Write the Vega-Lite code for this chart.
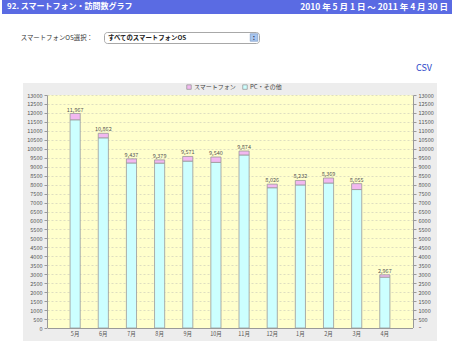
{
  "$schema": "https://vega.github.io/schema/vega-lite/v6.json",
  "padding": {"left": 2, "top": 0, "right": 0, "bottom": 0},
  "background": "white",
  "bounds": "flush",
  "spacing": 0,
  "resolve": {"legend": {"color": "independent"}},
  "config": {
    "view": {"stroke": null},
    "font": "Noto Sans CJK JP"
  },
  "vconcat": [
    {
      "width": 450,
      "height": 14,
      "view": {"fill": "#5a6be3", "stroke": null},
      "layer": [
        {
          "data": {"values": [{"part": "left", "label": "92. スマートフォン・訪問数グラフ"}]},
          "mark": {"type": "text", "align": "left", "baseline": "middle", "dx": 5, "color": "white", "fontSize": 8, "fontWeight": "bold"},
          "encoding": {
            "x": {"field": "part", "type": "nominal", "scale": {"type": "point", "domain": ["left", "right"], "padding": 0}, "axis": null},
            "text": {"field": "label"}
          }
        },
        {
          "data": {"values": [{"part": "right", "label": "2010 年 5 月 1 日 ～ 2011 年 4 月 30 日"}]},
          "mark": {"type": "text", "align": "right", "baseline": "middle", "dx": -4, "color": "white", "fontSize": 8.5, "fontWeight": "bold"},
          "encoding": {
            "x": {"field": "part", "type": "nominal", "scale": {"type": "point", "domain": ["left", "right"], "padding": 0}, "axis": null},
            "text": {"field": "label"}
          }
        }
      ]
    },
    {"width": 10, "height": 18, "data": {"values": []}, "mark": "rect", "encoding": {}},
    {
      "hconcat": [
        {
          "width": 102,
          "height": 11,
          "data": {"values": [{"part": "end", "label": "スマートフォンOS選択："}]},
          "mark": {"type": "text", "align": "right", "baseline": "middle", "dx": -11, "fontSize": 6.4, "color": "#333333"},
          "encoding": {
            "x": {"field": "part", "type": "nominal", "scale": {"type": "point", "domain": ["start", "end"], "padding": 0}, "axis": null},
            "text": {"field": "label"}
          }
        },
        {
          "width": 155,
          "height": 11,
          "view": {"fill": "white", "stroke": "#a8a8a8", "cornerRadius": 3},
          "layer": [
            {
              "data": {"values": [{"part": "text", "label": "すべてのスマートフォンOS"}]},
              "mark": {"type": "text", "align": "left", "baseline": "middle", "dx": 4, "fontSize": 6.4, "fontWeight": "bold", "color": "#222222"},
              "encoding": {
                "x": {"field": "part", "type": "nominal", "scale": {"type": "point", "domain": ["text", "icon"], "padding": 0}, "axis": null},
                "text": {"field": "label"}
              }
            },
            {
              "data": {"values": [{"part": "icon"}]},
              "mark": {"type": "square", "size": 56, "filled": true, "fill": "#a9c6ee", "stroke": "#6f8fc0", "strokeWidth": 0.6, "xOffset": -5, "opacity": 1},
              "encoding": {
                "x": {"field": "part", "type": "nominal", "scale": {"type": "point", "domain": ["text", "icon"], "padding": 0}, "axis": null}
              }
            },
            {
              "data": {"values": [{"part": "icon", "label": ":"}]},
              "mark": {"type": "text", "align": "center", "baseline": "middle", "xOffset": -5, "fontSize": 7, "fontWeight": "bold", "color": "#1d2b4a"},
              "encoding": {
                "x": {"field": "part", "type": "nominal", "scale": {"type": "point", "domain": ["text", "icon"], "padding": 0}, "axis": null},
                "text": {"field": "label"}
              }
            }
          ]
        }
      ],
      "spacing": 0,
      "bounds": "flush"
    },
    {
      "width": 430,
      "height": 51,
      "data": {"values": [{"part": "end", "label": "CSV"}]},
      "mark": {"type": "text", "align": "right", "baseline": "middle", "dy": 10.5, "fontSize": 9, "color": "#2b47c9"},
      "encoding": {
        "x": {"field": "part", "type": "nominal", "scale": {"type": "point", "domain": ["start", "end"], "padding": 0}, "axis": null},
        "text": {"field": "label"}
      }
    },
    {
      "hconcat": [
        {"width": 21, "height": 258, "data": {"values": []}, "mark": "rect", "encoding": {}},
        {"width": 24, "height": 258, "view": {"fill": "#ededed", "stroke": null}, "data": {"values": []}, "mark": "rect", "encoding": {}},
        {
          "vconcat": [
            {"width": 390, "height": 12, "view": {"fill": "#ededed", "stroke": null}, "data": {"values": []}, "mark": "rect", "encoding": {}},
            {
              "hconcat": [
                {
                  "width": 366,
                  "height": 233,
                  "view": {"fill": "#ffffcc", "stroke": null},
                  "data": {
                    "values": [
                      {"month": "5月", "type": "PC・その他", "value": 11617},
                      {"month": "5月", "type": "スマートフォン", "value": 350},
                      {"month": "6月", "type": "PC・その他", "value": 10612},
                      {"month": "6月", "type": "スマートフォン", "value": 250},
                      {"month": "7月", "type": "PC・その他", "value": 9207},
                      {"month": "7月", "type": "スマートフォン", "value": 230},
                      {"month": "8月", "type": "PC・その他", "value": 9199},
                      {"month": "8月", "type": "スマートフォン", "value": 180},
                      {"month": "9月", "type": "PC・その他", "value": 9311},
                      {"month": "9月", "type": "スマートフォン", "value": 260},
                      {"month": "10月", "type": "PC・その他", "value": 9240},
                      {"month": "10月", "type": "スマートフォン", "value": 300},
                      {"month": "11月", "type": "PC・その他", "value": 9654},
                      {"month": "11月", "type": "スマートフォン", "value": 220},
                      {"month": "12月", "type": "PC・その他", "value": 7826},
                      {"month": "12月", "type": "スマートフォン", "value": 200},
                      {"month": "1月", "type": "PC・その他", "value": 7982},
                      {"month": "1月", "type": "スマートフォン", "value": 250},
                      {"month": "2月", "type": "PC・その他", "value": 8089},
                      {"month": "2月", "type": "スマートフォン", "value": 280},
                      {"month": "3月", "type": "PC・その他", "value": 7725},
                      {"month": "3月", "type": "スマートフォン", "value": 330},
                      {"month": "4月", "type": "PC・その他", "value": 2837},
                      {"month": "4月", "type": "スマートフォン", "value": 130}
                    ]
                  },
                  "layer": [
                    {
                      "mark": {"type": "bar", "stroke": "#999999", "strokeWidth": 0.8},
                      "encoding": {
                        "x": {"field": "month", "type": "nominal", "sort": ["5月", "6月", "7月", "8月", "9月", "10月", "11月", "12月", "1月", "2月", "3月", "4月"], "scale": {"paddingInner": 0.64, "paddingOuter": 0.82}, "axis": null},
                        "y": {"field": "value", "type": "quantitative", "stack": "zero", "scale": {"domain": [0, 13000], "nice": false},
                          "axis": {"orient": "left", "title": null, "tickCount": 26, "format": "d", "labelFontSize": 5.5, "labelColor": "#555555", "tickColor": "#999999", "tickSize": 3, "domainColor": "#999999", "labelPadding": 2, "grid": true, "gridColor": "#d6d6bc", "gridDash": [2, 2], "gridWidth": 0.8}},
                        "color": {"field": "type", "type": "nominal", "scale": {"domain": ["スマートフォン", "PC・その他"], "range": ["#f2b8f0", "#ccffff"]},
                          "legend": {"orient": "none", "legendX": 139, "legendY": -11, "direction": "horizontal", "title": null, "symbolType": "square", "symbolSize": 20, "symbolStrokeColor": "#999999", "symbolStrokeWidth": 0.8, "labelFontSize": 6, "labelColor": "#444444", "columnPadding": 4, "labelOffset": 2, "padding": 0}},
                        "order": {"field": "type", "sort": "ascending"}
                      }
                    },
                    {
                      "mark": {"type": "text", "baseline": "bottom", "dy": -1, "fontSize": 5.5, "color": "#555555"},
                      "encoding": {
                        "x": {"field": "month", "type": "nominal", "sort": ["5月", "6月", "7月", "8月", "9月", "10月", "11月", "12月", "1月", "2月", "3月", "4月"]},
                        "y": {"aggregate": "sum", "field": "value", "type": "quantitative"},
                        "text": {"aggregate": "sum", "field": "value", "type": "quantitative", "format": ","}
                      }
                    }
                  ]
                },
                {
                  "width": 24,
                  "height": 233,
                  "view": {"fill": "#ededed", "stroke": null},
                  "data": {"values": []},
                  "mark": "rule",
                  "encoding": {
                    "y": {"field": "v", "type": "quantitative", "scale": {"domain": [0, 13000], "nice": false},
                      "axis": {"orient": "right", "offset": -24, "title": null, "tickCount": 26, "format": "d", "labelFontSize": 5.5, "labelColor": "#555555", "tickColor": "#999999", "tickSize": 3, "domainColor": "#999999", "labelPadding": 2, "grid": false}}
                  }
                }
              ],
              "spacing": 0,
              "bounds": "flush",
              "resolve": {"legend": {"color": "independent"}}
            },
            {"width": 10, "height": 233, "data": {"values": []}, "mark": "rect", "encoding": {}},
            {
              "hconcat": [
                {
                  "width": 366,
                  "height": 13,
                  "view": {"fill": "#ededed", "stroke": null},
                  "data": {"values": []},
                  "mark": "rect",
                  "encoding": {
                    "x": {"field": "month", "type": "nominal", "scale": {"type": "band", "domain": ["5月", "6月", "7月", "8月", "9月", "10月", "11月", "12月", "1月", "2月", "3月", "4月"], "paddingInner": 0.64, "paddingOuter": 0.82},
                      "axis": {"orient": "bottom", "offset": -13, "title": null, "labelAngle": 0, "labelFontSize": 5.5, "labelColor": "#555555", "ticks": false, "domainColor": "#999999", "labelPadding": 3}}
                  }
                },
                {"width": 24, "height": 13, "view": {"fill": "#ededed", "stroke": null}, "data": {"values": []}, "mark": "rect", "encoding": {}}
              ],
              "spacing": 0,
              "bounds": "flush"
            }
          ],
          "spacing": 0,
          "bounds": "flush",
          "resolve": {"legend": {"color": "independent"}}
        }
      ],
      "spacing": 0,
      "bounds": "flush",
      "resolve": {"legend": {"color": "independent"}}
    }
  ]
}
